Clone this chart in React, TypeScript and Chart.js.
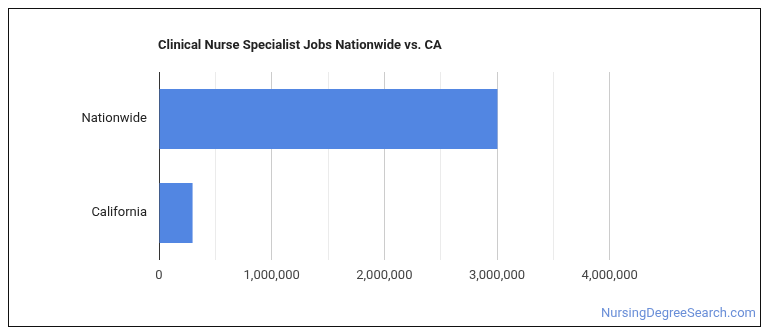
import React, { useEffect, useRef } from "react";
import { Chart, registerables } from "chart.js";

Chart.register(...registerables);

const categories = ["Nationwide", "California"];
const jobs = [3004000, 298000];
const tickStep = 500000;
const axisMax = 4000000;
const chartTitle = "Clinical Nurse Specialist Jobs Nationwide vs. CA";
const watermark = "NursingDegreeSearch.com";

const FONT = "Roboto, 'Noto Sans', Arial, sans-serif";
const CW = 751;
const CH = 317;

export default function App() {
  const ref = useRef<HTMLCanvasElement | null>(null);
  useEffect(() => {
    if (!ref.current) return;
    const chart = new Chart(ref.current, {
      type: "bar",
      data: {
        labels: categories,
        datasets: [
          {
            data: jobs,
            backgroundColor: "#5286e2",
            borderWidth: 0,
            barPercentage: 0.64,
            categoryPercentage: 1,
          },
        ],
      },
      options: {
        indexAxis: "y",
        responsive: false,
        animation: false,
        devicePixelRatio: 1,
        layout: { padding: { left: 0, right: CW - 600.7, top: 63, bottom: 0 } },
        plugins: { legend: { display: false }, tooltip: { enabled: false }, title: { display: false } },
        scales: {
          x: {
            min: 0,
            max: axisMax,
            afterFit: (s: any) => {
              s.height = CH - 63 - 188;
            },
            border: { display: false },
            grid: {
              drawTicks: false,
              color: (ctx: any) => {
                const v = ctx.tick ? ctx.tick.value : 0;
                if (v === 0) return "#333333";
                return v % 1000000 === 0 ? "#cccccc" : "#ebebeb";
              },
              lineWidth: 1,
            },
            ticks: {
              stepSize: tickStep,
              padding: 8,
              color: "#444444",
              font: { family: FONT, size: 13 },
              maxRotation: 0,
              autoSkip: false,
              callback: (v: any) => (Number(v) % 1000000 === 0 ? Number(v).toLocaleString("en-US") : ""),
            },
          },
          y: {
            afterFit: (s: any) => {
              s.width = 150;
            },
            border: { display: false },
            grid: { display: false, drawTicks: false },
            ticks: {
              padding: 12,
              color: "#222222",
              font: { family: FONT, size: 13 },
            },
          },
        },
      },
    });
    return () => chart.destroy();
  }, []);

  return (
    <div
      style={{
        position: "relative",
        width: 753,
        height: 319,
        boxSizing: "border-box",
        border: "1px solid #111",
        background: "#fff",
      }}
    >
      <canvas ref={ref} width={CW} height={CH} style={{ position: "absolute", left: 0, top: 0, width: CW, height: CH }} />
      <div
        style={{
          position: "absolute",
          left: 149,
          top: 28,
          lineHeight: "16px",
          fontFamily: FONT,
          fontWeight: 700,
          fontSize: 13,
          color: "#222",
          whiteSpace: "nowrap",
        }}
      >
        {chartTitle}
      </div>
      <div
        style={{
          position: "absolute",
          right: 4,
          top: 295,
          lineHeight: "18px",
          fontFamily: FONT,
          fontSize: 13,
          color: "#6a8fd8",
          whiteSpace: "nowrap",
        }}
      >
        {watermark}
      </div>
    </div>
  );
}
